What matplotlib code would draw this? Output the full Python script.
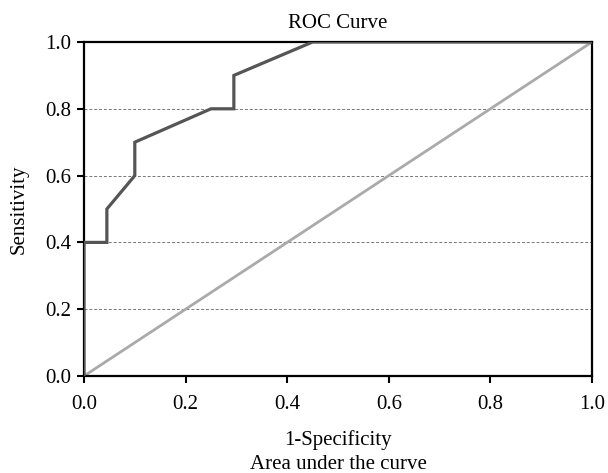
import matplotlib.pyplot as plt

fpr = [0.0, 0.0, 0.045, 0.045, 0.1, 0.1, 0.25, 0.295, 0.295, 0.45, 1.0]
tpr = [0.0, 0.4, 0.4, 0.5, 0.6, 0.7, 0.8, 0.8, 0.9, 1.0, 1.0]
ref_line = [0.0, 1.0]
ticks = [0.0, 0.2, 0.4, 0.6, 0.8, 1.0]

plt.rcParams['font.family'] = ['Liberation Serif', 'DejaVu Serif']

fig = plt.figure(figsize=(6.08, 4.73), dpi=100)
ax = fig.add_axes([84/608, 1 - 376/473, 508/608, 334/473])

for y in ticks[1:-1]:
    ax.axhline(y, color='#777777', linestyle=(0, (3, 2)), linewidth=0.7, zorder=1)

ax.plot(ref_line, ref_line, color='#aaaaaa', linewidth=2.0, zorder=2)
ax.plot(fpr, tpr, color='#555555', linewidth=2.3, zorder=3, solid_joinstyle='miter')

ax.set_xlim(0, 1)
ax.set_ylim(0, 1)
ax.set_xticks(ticks)
ax.set_yticks(ticks)
ax.set_xticklabels(['%.1f' % t for t in ticks])
ax.set_yticklabels(['%.1f' % t for t in ticks])
ax.tick_params(labelsize=15, width=1.5, length=5, direction='out')
ax.tick_params(axis='y', pad=4)
ax.tick_params(axis='x', pad=9)
for s in ax.spines.values():
    s.set_linewidth(1.6)
    s.set_color('black')

ax.set_title('ROC Curve', fontsize=15, pad=10)
ax.set_xlabel('1-Specificity\nArea under the curve', fontsize=15, labelpad=11, linespacing=1.35)
ax.set_ylabel('Sensitivity', fontsize=15, labelpad=12)

fig.savefig('out.png', dpi=100)
